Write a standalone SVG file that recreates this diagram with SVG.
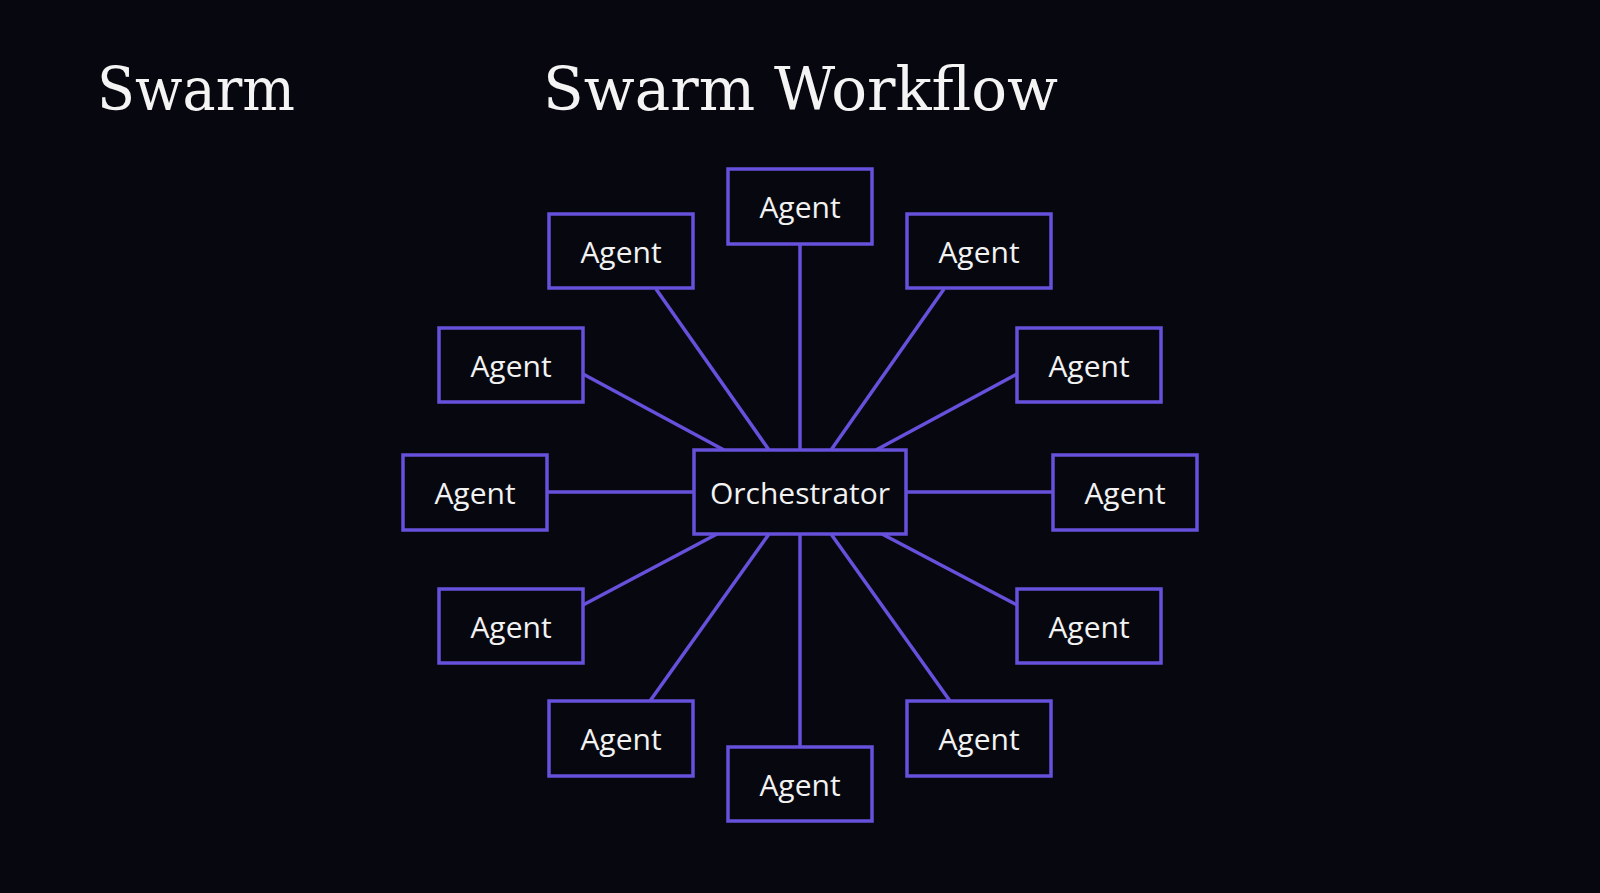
<svg xmlns="http://www.w3.org/2000/svg" width="1600" height="893" viewBox="0 0 1600 893">
<style>
.n rect{fill:#07080f;stroke:#6650dc;stroke-width:3.5}
.n text{fill:#f2f2f2;font-family:"Open Sans","Noto Sans",sans-serif;font-size:30px;text-anchor:middle;dominant-baseline:central}
.t{fill:#f4f4f4;font-family:"DejaVu Serif","Liberation Serif",serif;font-size:60px}
#edges line{stroke:#6650dc;stroke-width:3.5}
</style>
<rect width="1600" height="893" fill="#07080f"/>
<text class="t" x="97" y="110" textLength="198" lengthAdjust="spacingAndGlyphs">Swarm</text>
<text class="t" x="543" y="110" textLength="515" lengthAdjust="spacingAndGlyphs">Swarm Workflow</text>
<g id="edges">
<line x1="800" y1="244" x2="800" y2="450"/>
<line x1="656" y1="289" x2="769" y2="450"/>
<line x1="944" y1="289" x2="831" y2="450"/>
<line x1="583" y1="374" x2="724" y2="450"/>
<line x1="1017" y1="374" x2="876" y2="450"/>
<line x1="547" y1="492" x2="694" y2="492"/>
<line x1="906" y1="492" x2="1053" y2="492"/>
<line x1="717" y1="534" x2="583" y2="605"/>
<line x1="882" y1="534" x2="1017" y2="605"/>
<line x1="769" y1="534" x2="650" y2="701"/>
<line x1="831" y1="534" x2="950" y2="701"/>
<line x1="800" y1="534" x2="800" y2="747"/>
</g>
<g id="orchestrator" class="n"><rect x="694" y="450" width="212" height="84"/><text x="800" y="492">Orchestrator</text></g>
<g id="a1" class="n"><rect x="728" y="169" width="144" height="75"/><text x="800" y="206">Agent</text></g>
<g id="a2" class="n"><rect x="549" y="214" width="144" height="74"/><text x="621" y="251">Agent</text></g>
<g id="a3" class="n"><rect x="907" y="214" width="144" height="74"/><text x="979" y="251">Agent</text></g>
<g id="a4" class="n"><rect x="439" y="328" width="144" height="74"/><text x="511" y="365">Agent</text></g>
<g id="a5" class="n"><rect x="1017" y="328" width="144" height="74"/><text x="1089" y="365">Agent</text></g>
<g id="a6" class="n"><rect x="403" y="455" width="144" height="75"/><text x="475" y="492">Agent</text></g>
<g id="a7" class="n"><rect x="1053" y="455" width="144" height="75"/><text x="1125" y="492">Agent</text></g>
<g id="a8" class="n"><rect x="439" y="589" width="144" height="74"/><text x="511" y="626">Agent</text></g>
<g id="a9" class="n"><rect x="1017" y="589" width="144" height="74"/><text x="1089" y="626">Agent</text></g>
<g id="a10" class="n"><rect x="549" y="701" width="144" height="75"/><text x="621" y="738">Agent</text></g>
<g id="a11" class="n"><rect x="907" y="701" width="144" height="75"/><text x="979" y="738">Agent</text></g>
<g id="a12" class="n"><rect x="728" y="747" width="144" height="74"/><text x="800" y="784">Agent</text></g>
</svg>
